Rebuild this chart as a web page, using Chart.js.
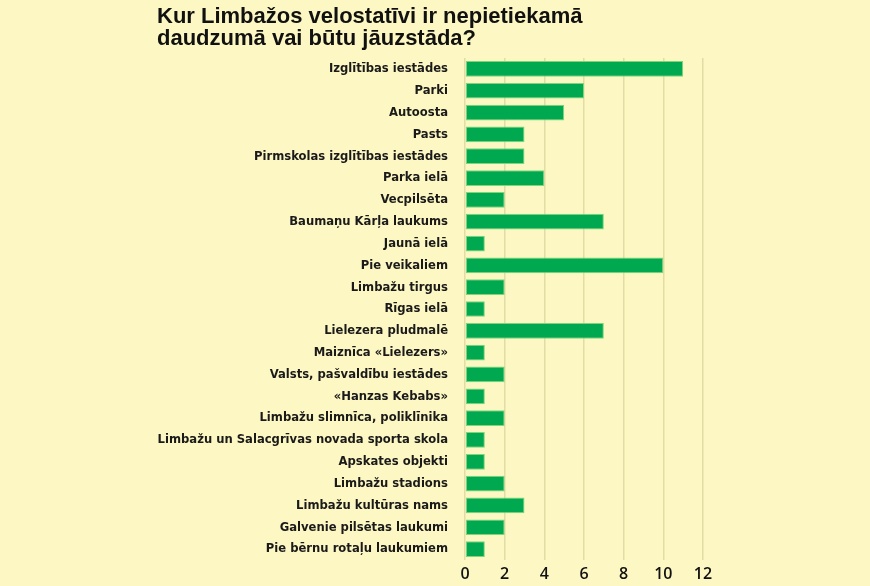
<!DOCTYPE html>
<html>
<head>
<meta charset="utf-8">
<script src="https://cdn.jsdelivr.net/npm/chart.js@4/dist/chart.umd.min.js"></script>
<style>
  html, body { margin: 0; padding: 0; background: #fdf8c3; }
  #wrap { width: 870px; height: 586px; }
</style>
</head>
<body>
<div id="wrap"><canvas id="chart"></canvas></div>
<script>
const titleLines = ["Kur Limbažos velostatīvi ir nepietiekamā", "daudzumā vai būtu jāuzstāda?"];

const places = [
  "Izglītības iestādes",
  "Parki",
  "Autoosta",
  "Pasts",
  "Pirmskolas izglītības iestādes",
  "Parka ielā",
  "Vecpilsēta",
  "Baumaņu Kārļa laukums",
  "Jaunā ielā",
  "Pie veikaliem",
  "Limbažu tirgus",
  "Rīgas ielā",
  "Lielezera pludmalē",
  "Maiznīca «Lielezers»",
  "Valsts, pašvaldību iestādes",
  "«Hanzas Kebabs»",
  "Limbažu slimnīca, poliklīnika",
  "Limbažu un Salacgrīvas novada sporta skola",
  "Apskates objekti",
  "Limbažu stadions",
  "Limbažu kultūras nams",
  "Galvenie pilsētas laukumi",
  "Pie bērnu rotaļu laukumiem"
];

const answers = [11, 6, 5, 3, 3, 4, 2, 7, 1, 10, 2, 1, 7, 1, 2, 1, 2, 1, 1, 2, 3, 2, 1];

const xMin = 0, xMax = 12, xStep = 2;

const labelFont = "'Liberation Sans Narrow', 'DejaVu Sans Condensed', 'Liberation Sans', sans-serif";

new Chart(document.getElementById("chart"), {
  type: "bar",
  data: {
    labels: places,
    datasets: [{
      data: answers,
      backgroundColor: "#00a94f",
      borderColor: "#7fd67a",
      borderWidth: 1,
      borderSkipped: false,
      barPercentage: 0.72,
      categoryPercentage: 1.0
    }]
  },
  options: {
    indexAxis: "y",
    responsive: true,
    maintainAspectRatio: false,
    animation: false,
    layout: { padding: { left: 157, right: 167, top: 0, bottom: 0 } },
    plugins: {
      legend: { display: false },
      tooltip: { enabled: false },
      title: {
        display: true,
        text: titleLines,
        align: "start",
        color: "#111",
        font: { family: "'Liberation Sans', Arial, sans-serif", size: 22, weight: "bold", lineHeight: 1.0 },
        padding: { top: 6, bottom: 8 }
      }
    },
    scales: {
      x: {
        min: xMin,
        max: xMax,
        afterFit: s => { s.height = 26; },
        ticks: {
          stepSize: xStep,
          color: "#111",
          padding: 5,
          font: { family: "'Open Sans', sans-serif", size: 16, weight: "600" }
        },
        grid: { color: "#e2dca6", lineWidth: 1.5, drawTicks: false },
        border: { display: false }
      },
      y: {
        afterFit: s => { s.width = 308; },
        ticks: {
          color: "#1a1a1a",
          padding: 9,
          font: { family: labelFont, size: 12.9, weight: "bold" }
        },
        grid: { display: false },
        border: { display: false }
      }
    }
  }
});
</script>
</body>
</html>
